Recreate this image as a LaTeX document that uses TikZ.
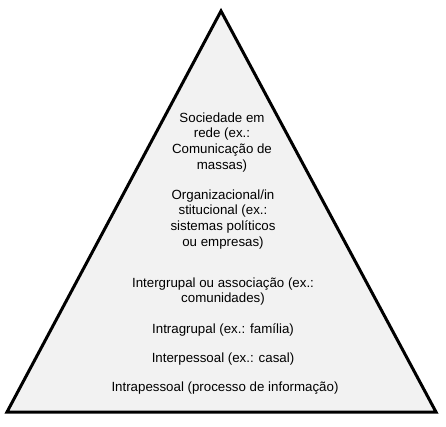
\documentclass[tikz,border=0pt]{standalone}
\usepackage{fontspec}
\setmainfont{Liberation Sans}
\definecolor{trifill}{HTML}{F2F2F2}
\begin{document}
\begin{tikzpicture}[x=1pt,y=-1pt,
  lbl/.style={font=\fontsize{13.3}{15.6}\selectfont, align=center, inner sep=0pt, anchor=north}]
\useasboundingbox (0,0) rectangle (446,427);
\coordinate (apex) at (221,11);
\coordinate (bl) at (7,412);
\coordinate (br) at (436,412);
\draw[line width=3pt, fill=trifill, line join=miter] (apex) -- (br) -- (bl) -- cycle;
\node[lbl] (soc) at (222,112.5) {Sociedade em\\rede (ex.:\\Comunicação de\\massas)};
\node[lbl] (org) at (223,189.5) {Organizacional/in\\stitucional (ex.:\\sistemas políticos\\ou empresas)};
\node[lbl] (inter) at (223,277.5) {Intergrupal ou associação (ex.:\\comunidades)};
\node[lbl] (intra) at (223,323.5) {Intragrupal (ex.: família)};
\node[lbl] (pess) at (223,352.5) {Interpessoal (ex.: casal)};
\node[lbl] (info) at (225,381.5) {Intrapessoal (processo de informação)};
\end{tikzpicture}
\end{document}
